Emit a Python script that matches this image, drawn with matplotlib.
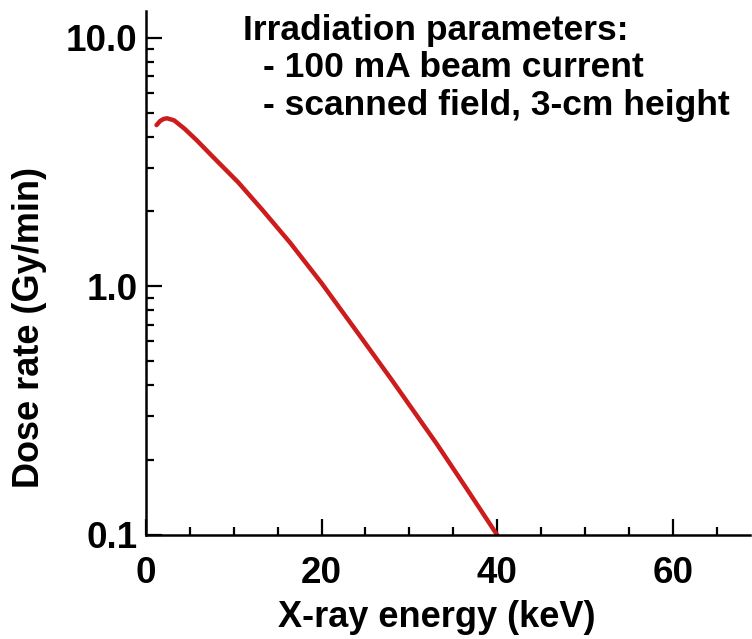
import numpy as np
import matplotlib
matplotlib.use("Agg")
import matplotlib.pyplot as plt
from matplotlib.ticker import FixedLocator, LogLocator, NullFormatter, FixedFormatter

# dose rate vs x-ray energy
energy_kev = [1.2, 1.6, 2.0, 2.4, 3.2, 4.4, 5.8, 7.5, 10.5, 13.2, 16.4, 20.0, 24.4, 28.0, 33.1, 36.5, 40.0]
dose_rate = [4.45, 4.62, 4.71, 4.74, 4.65, 4.30, 3.86, 3.35, 2.62, 2.04, 1.50, 1.03, 0.63, 0.42, 0.233, 0.154, 0.1]

xticks = [0, 20, 40, 60]
yticks = [0.1, 1.0, 10.0]
ytick_labels = ["0.1", "1.0", "10.0"]
notes = ["Irradiation parameters:",
         "- 100 mA beam current",
         "- scanned field, 3-cm height"]

plt.rcParams["font.family"] = ["Liberation Sans", "DejaVu Sans"]
plt.rcParams["font.weight"] = "bold"

W, H = 752, 639
fig = plt.figure(figsize=(W / 100, H / 100), dpi=100)
ax = fig.add_axes([146 / W, 1 - 535 / H, (750 - 146) / W, (535 - 11) / H])

ax.plot(energy_kev, dose_rate, color="#cc1c1c", lw=3.2,
        solid_capstyle="round", solid_joinstyle="round")

ax.set_yscale("log")
ax.set_xlim(0, 68.8)
ax.set_ylim(0.1, 12.8)

ax.xaxis.set_major_locator(FixedLocator(xticks))
ax.xaxis.set_minor_locator(FixedLocator(np.arange(5, 70, 5)))
ax.yaxis.set_major_locator(FixedLocator(yticks))
ax.yaxis.set_major_formatter(FixedFormatter(ytick_labels))
ax.yaxis.set_minor_locator(LogLocator(base=10, subs=np.arange(2, 10)))
ax.yaxis.set_minor_formatter(NullFormatter())

for s in ["top", "right"]:
    ax.spines[s].set_visible(False)
for s in ["left", "bottom"]:
    ax.spines[s].set_linewidth(1.8)

ax.tick_params(which="major", direction="in", length=11.5, width=1.6, labelsize=26.5)
ax.tick_params(which="minor", direction="in", length=5.5, width=1.6)
ax.tick_params(axis="x", which="major", pad=15)
ax.tick_params(axis="y", which="major", pad=6)

# axis titles
fig.text(437 / W, 1 - 627 / H, "X-ray energy (keV)", fontsize=26, fontweight="bold",
         ha="center", va="baseline")
fig.text(30 / W, 1 - 328 / H, "Dose rate (Gy/min)", rotation=90, fontsize=26,
         fontweight="bold", ha="center", va="center")

# irradiation notes, top right
fig.text(243 / W, 1 - 40 / H, notes[0], fontsize=25.5, fontweight="bold",
         ha="left", va="baseline")
for i, line in enumerate(notes[1:]):
    fig.text(263 / W, 1 - (77 + 38 * i) / H, line, fontsize=25.5, fontweight="bold",
             ha="left", va="baseline")

fig.savefig("out.png", dpi=100)
